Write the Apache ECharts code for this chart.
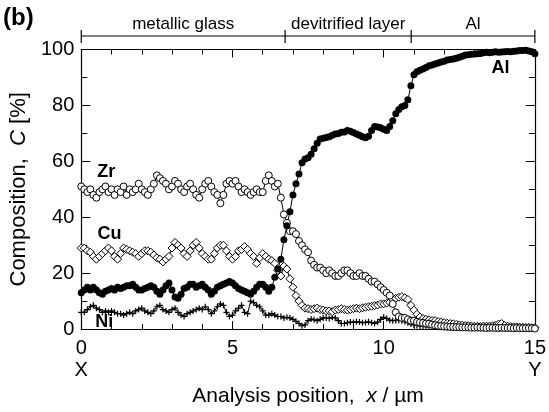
<!DOCTYPE html>
<html lang="en">
<head>
    <meta charset="UTF-8">
    <title>Composition profile</title>
    <style>
        html, body { margin: 0; padding: 0; width: 100%; height: 100%; background: #fff; }
        #main { width: 549px; height: 412px; }
    </style>
</head>
<body>
    <div id="main"></div>
    <script src="https://cdn.jsdelivr.net/npm/echarts@6/dist/echarts.min.js"></script>
    <script type="text/javascript">
        // analysis positions, x / um
        var positions = [
            0.0, 0.1, 0.2, 0.3, 0.4, 0.5, 0.6, 0.7, 0.8, 0.9,
            1.0, 1.1, 1.2, 1.3, 1.4, 1.5, 1.6, 1.7, 1.8, 1.9,
            2.0, 2.1, 2.2, 2.3, 2.4, 2.5, 2.6, 2.7, 2.8, 2.9,
            3.0, 3.1, 3.2, 3.3, 3.4, 3.5, 3.6, 3.7, 3.8, 3.9,
            4.0, 4.1, 4.2, 4.3, 4.4, 4.5, 4.6, 4.7, 4.8, 4.9,
            5.0, 5.1, 5.2, 5.3, 5.4, 5.5, 5.6, 5.7, 5.8, 5.9,
            6.0, 6.1, 6.2, 6.3, 6.4, 6.5, 6.6, 6.7, 6.8, 6.9,
            7.0, 7.1, 7.2, 7.3, 7.4, 7.5, 7.6, 7.7, 7.8, 7.9,
            8.0, 8.1, 8.2, 8.3, 8.4, 8.5, 8.6, 8.7, 8.8, 8.9,
            9.0, 9.1, 9.2, 9.3, 9.4, 9.5, 9.6, 9.7, 9.8, 9.9,
            10.0, 10.1, 10.2, 10.3, 10.4, 10.5, 10.6, 10.7, 10.8, 10.9,
            11.0, 11.1, 11.2, 11.3, 11.4, 11.5, 11.6, 11.7, 11.8, 11.9,
            12.0, 12.1, 12.2, 12.3, 12.4, 12.5, 12.6, 12.7, 12.8, 12.9,
            13.0, 13.1, 13.2, 13.3, 13.4, 13.5, 13.6, 13.7, 13.8, 13.9,
            14.0, 14.1, 14.2, 14.3, 14.4, 14.5, 14.6, 14.7, 14.8, 14.9,
            15.0
        ];

        var alValues = [
            13, 14, 15, 14, 15, 14, 13, 12.5, 13.5, 14,
            14.5, 14, 15, 14.5, 15, 15.5, 15.5, 16, 15, 14,
            14, 14.5, 15, 15.5, 15, 13.5, 12.5, 14, 15.5, 16.5,
            14, 11.5, 11, 12.5, 14.5, 15, 16, 16, 15, 15.5,
            16, 15, 14, 12.5, 13.5, 15, 15.5, 16, 16.5, 17,
            16.5, 15.5, 14.5, 14, 13.5, 13, 12.5, 13.5, 15, 16,
            16, 15, 13.5, 15, 18.5, 21.5, 25, 32, 37, 42,
            48, 52, 55.5, 59.5, 60.8, 61.3, 62.5, 64.5, 66.5, 68,
            68.3, 68.5, 68.8, 69.3, 69.8, 70, 70.4, 70.5, 71, 70.8,
            70.3, 69.8, 69.3, 68.8, 68.4, 69, 71, 72.5, 72.3, 72,
            71.5, 71, 72.5, 74.5, 77, 78.5, 79.5, 80, 82, 87,
            91, 92, 92.6, 93, 93.6, 94.2, 94.5, 94.8, 95.2, 95.5,
            95.8, 96.2, 96.4, 96.6, 96.9, 97.2, 97.6, 98, 98.1, 98.3,
            98.4, 98.5, 98.6, 98.8, 99, 98.8, 99, 99.2, 99, 99.1,
            99.2, 99.3, 99.2, 99.4, 99.5, 99.6, 99.6, 99.7, 99.5, 99.2,
            98.5
        ];

        var zrValues = [
            51, 50, 49, 50, 48, 47, 49, 50, 51, 49,
            50, 48, 50, 49, 51, 48, 50, 49, 50, 52,
            50, 49, 48, 50, 52, 55, 54, 53, 52, 50,
            51, 53, 52, 50, 49, 51, 52, 50, 48, 47,
            50, 52, 53, 51, 49, 48, 45, 48, 52, 53,
            52, 53, 51, 49, 50, 49, 48, 49, 50, 49,
            49, 53, 55, 53, 51, 52, 47, 41, 38, 35,
            35, 34, 31.5, 30, 28.5, 27.5, 24.5, 23, 22, 22,
            21, 20, 21, 20, 19, 19, 20, 21, 21, 20,
            19, 19, 20, 19, 19, 18, 17, 17, 16, 15,
            14, 13, 12, 9, 6, 4.5, 4, 4, 3.5, 3,
            3, 2.6, 2.4, 2.2, 2, 1.9, 1.6, 1.4, 1.2, 1.1,
            1, 0.9, 0.8, 0.8, 0.7, 0.7, 0.6, 0.6, 0.6, 0.5,
            0.5, 0.6, 0.5, 0.5, 0.4, 0.5, 0.5, 0.4, 0.4, 0.5,
            0.4, 0.4, 0.4, 0.3, 0.4, 0.3, 0.3, 0.3, 0.3, 0.3,
            0.2
        ];

        var cuValues = [
            29, 29, 28, 27.5, 26, 25, 26, 27, 28, 29,
            28, 26, 25, 27, 29, 28.5, 28, 27.5, 27, 26,
            27, 28, 28, 27.5, 26.5, 25.5, 25, 24, 25, 26,
            29, 31, 30, 29, 27, 26, 28, 30, 31, 29,
            27, 26, 25, 25, 27, 29, 30, 30, 28, 26,
            25, 26, 28, 28.5, 29.5, 28.5, 27, 26, 23.5, 25.5,
            27, 26, 25, 24.5, 23.5, 21, 19, 22.5, 21.5, 18,
            15, 12, 10, 8.5, 7.5, 7.3, 7, 7.3, 7.5, 7,
            6.8, 6.5, 6.5, 6.2, 6.8, 7, 7.3, 7, 6.8, 7,
            7.3, 7.5, 7.3, 7.6, 7.8, 8, 8.2, 8.4, 8.6, 9,
            9, 9.3, 9.6, 10.5, 11, 11.4, 11.6, 11.2, 10.6, 8.5,
            6.8, 5.3, 4.3, 3.8, 3.5, 3.3, 3.1, 3, 2.7, 2.5,
            2.3, 2.1, 2, 1.9, 1.7, 1.5, 1.4, 1.3, 1.2, 1.1,
            1, 1, 0.9, 1.1, 1, 1.1, 1.2, 1.4, 1.8, 2,
            1.3, 1, 0.9, 0.8, 0.8, 0.7, 0.7, 0.6, 0.6, 0.5,
            0.5
        ];

        var niValues = [
            6, 6, 7, 8, 8.5, 7.5, 7, 6, 6.5, 6,
            6.5, 6, 5.5, 5.5, 5, 5.5, 6, 5.5, 6.5, 7,
            7.5, 6.5, 6, 5.5, 6.5, 8, 8.5, 7, 6.5, 6,
            7, 7.5, 6, 5, 4.5, 5.5, 6, 6.5, 7, 7.5,
            7, 8, 7, 5.5, 6.5, 8, 9, 8.5, 6, 4.5,
            5, 6.5, 7.5, 8.5, 6, 5.5, 10, 9.5, 8.5, 8,
            6.5, 5, 5, 5.5, 5, 4.5, 4.5, 4, 4.2, 4,
            3.5, 2.8, 2, 1.2, 1.5, 3, 3.6, 3.3, 3, 3.5,
            4, 4, 3.8, 4.2, 4, 3, 2, 2, 2.3, 2.5,
            2.4, 2.6, 2.5, 2.3, 2.4, 2.6, 2.3, 2, 2.5, 3.5,
            4.2, 3.8, 3.2, 3, 3.1, 3.2, 3, 2.7, 2.3, 1.8,
            1.5, 1.3, 1.1, 1, 0.9, 0.9, 0.8, 0.8, 0.7, 0.7,
            0.6, 0.6, 0.5, 0.5, 0.5, 0.5, 0.4, 0.4, 0.4, 0.4,
            0.4, 0.3, 0.3, 0.3, 0.3, 0.3, 0.3, 0.3, 0.3, 0.3,
            0.3, 0.3, 0.2, 0.2, 0.2, 0.2, 0.2, 0.2, 0.2, 0.2,
            0.2
        ];

        var xTicks = [0, 5, 10, 15];

        // layer bracket above the plot
        var layerEdges = [0, 6.74, 10.91, 15];
        var layerNames = ['metallic glass', 'devitrified layer', 'Al'];

        // element labels placed in data space
        var elementLabels = [
            { text: 'Zr', x: 0.83, y: 56 },
            { text: 'Cu', x: 0.93, y: 34 },
            { text: 'Ni', x: 0.76, y: 2.6 },
            { text: 'Al', x: 13.86, y: 93.4 }
        ];

        var font = 'Liberation Sans, Arial, Helvetica, sans-serif';
        var myChart = echarts.init(document.getElementById('main'));

        function pairs(values) {
            var out = [];
            for (var i = 0; i < positions.length; i++) {
                out.push([positions[i], values[i]]);
            }
            return out;
        }

        function lineSeries(name, values, symbol, size, fill, border) {
            return {
                name: name,
                type: 'line',
                data: pairs(values),
                symbol: symbol,
                symbolSize: size,
                showAllSymbol: true,
                silent: true,
                lineStyle: { color: '#000', width: 1 },
                itemStyle: { color: fill, borderColor: '#000', borderWidth: border },
                emphasis: { disabled: true }
            };
        }

        function xAxisCfg(pos, showLabel) {
            return {
                type: 'value', position: pos, min: 0, max: 15, interval: 5,
                axisLine: { onZero: false, lineStyle: { color: '#000', width: 1.2 } },
                axisTick: { inside: true, length: 8, lineStyle: { color: '#000', width: 1 } },
                minorTick: { show: true, splitNumber: 5, length: 5, lineStyle: { color: '#000', width: 1 } },
                splitLine: { show: false },
                axisLabel: {
                    show: showLabel, color: '#000', fontSize: 20, fontFamily: font, margin: 8, lineHeight: 22,
                    formatter: function (v) {
                        if (v === xTicks[0]) return v + '\nX';
                        if (v === xTicks[xTicks.length - 1]) return v + '\nY';
                        return '' + v;
                    }
                }
            };
        }

        function yAxisCfg(pos, showLabel) {
            return {
                type: 'value', position: pos, min: 0, max: 100, interval: 20,
                axisLine: { onZero: false, lineStyle: { color: '#000', width: 1.2 } },
                axisTick: { inside: true, length: 9, lineStyle: { color: '#000', width: 1 } },
                minorTick: { show: true, splitNumber: 2, length: 6, lineStyle: { color: '#000', width: 1 } },
                splitLine: { show: false },
                axisLabel: { show: showLabel, color: '#000', fontSize: 20, fontFamily: font, margin: 7 }
            };
        }

        var xBottom = xAxisCfg('bottom', true);
        xBottom.name = '{n|Analysis position,  }{i|x}{n| / µm}';
        xBottom.nameLocation = 'middle';
        xBottom.nameGap = 30;
        xBottom.nameTextStyle = {
            rich: {
                n: { fontSize: 21, fontFamily: font, color: '#000' },
                i: { fontSize: 21, fontFamily: font, color: '#000', fontStyle: 'italic' }
            }
        };

        var yLeft = yAxisCfg('left', true);
        yLeft.name = '{n|Composition,  }{i|C}{n| [%]}';
        yLeft.nameLocation = 'middle';
        yLeft.nameGap = 44;
        yLeft.nameTextStyle = {
            rich: {
                n: { fontSize: 22, fontFamily: font, color: '#000' },
                i: { fontSize: 22, fontFamily: font, color: '#000', fontStyle: 'italic' }
            }
        };

        var plus = 'path://M2,0H3V2H5V3H3V5H2V3H0V2H2Z';

        var option = {
            animation: false,
            backgroundColor: '#fff',
            grid: { left: 77, right: 10, top: 49.5, bottom: 54 },
            xAxis: [xBottom, xAxisCfg('top', false)],
            yAxis: [yLeft, yAxisCfg('right', false)],
            series: [
                lineSeries('Ni', niValues, plus, 6, '#000', 0),
                lineSeries('Cu', cuValues, 'diamond', 8, '#fff', 1),
                lineSeries('Zr', zrValues, 'circle', 7, '#fff', 1),
                lineSeries('Al', alValues, 'circle', 7, '#000', 0)
            ]
        };
        myChart.setOption(option);

        // bracket and labels positioned through the axes
        var g = [];
        var lineY = 36;
        var px = layerEdges.map(function (v) { return myChart.convertToPixel({ xAxisIndex: 0 }, v); });
        g.push({
            type: 'line', silent: true,
            shape: { x1: px[0], y1: lineY, x2: px[px.length - 1], y2: lineY },
            style: { stroke: '#000', lineWidth: 1.2 }
        });
        px.forEach(function (p) {
            g.push({
                type: 'line', silent: true,
                shape: { x1: p, y1: lineY - 6, x2: p, y2: lineY + 7 },
                style: { stroke: '#000', lineWidth: 1.2 }
            });
        });
        layerNames.forEach(function (name, i) {
            g.push({
                type: 'text', silent: true,
                x: (px[i] + px[i + 1]) / 2, y: 24,
                style: { text: name, fontSize: 17, fontFamily: font, fill: '#000', align: 'center', verticalAlign: 'middle' }
            });
        });
        g.push({
            type: 'text', silent: true, x: 3, y: 18,
            style: { text: '(b)', fontSize: 24, fontWeight: 'bold', fontFamily: font, fill: '#000', align: 'left', verticalAlign: 'middle' }
        });
        elementLabels.forEach(function (lb) {
            var p = myChart.convertToPixel({ gridIndex: 0 }, [lb.x, lb.y]);
            g.push({
                type: 'text', silent: true, x: p[0], y: p[1],
                style: { text: lb.text, fontSize: 18, fontWeight: 'bold', fontFamily: font, fill: '#000', align: 'center', verticalAlign: 'middle' }
            });
        });
        myChart.setOption({ graphic: g });
    </script>
</body>
</html>
